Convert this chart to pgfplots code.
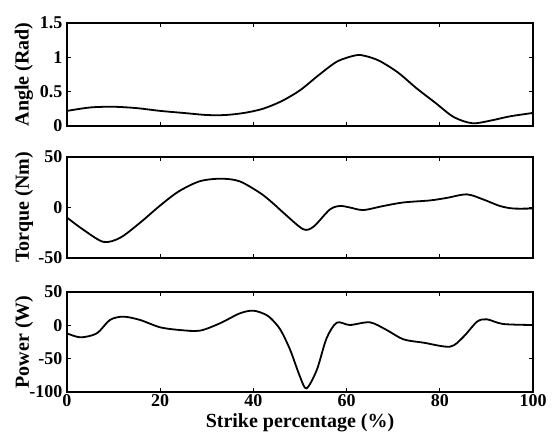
\documentclass[border=0pt]{standalone}
\usepackage{fontspec}
\setmainfont{Liberation Serif}
\usepackage{pgfplots}
\pgfplotsset{compat=1.18}

\pgfplotsset{
  panel/.style={
    scale only axis,
    width=466pt,
    xmin=0, xmax=100,
    xtick={0,20,...,100},
    tick align=inside,
    major tick length=4pt,
    axis line style={line width=2pt},
    every tick/.style={black, line width=1pt},
    /pgf/number format/assume math mode=true,
    ticklabel style={font=\fontsize{18}{18}\selectfont\bfseries, inner sep=2pt},
    yticklabel style={xshift=-2.5pt},
    label style={font=\fontsize{20}{20}\selectfont\bfseries},
    ylabel style={at={(axis description cs:-0.0923,0.5)}, anchor=center},
  },
  curve/.style={black, line width=1.8pt, smooth, tension=0.5, mark=none},
}

\begin{document}
\begin{tikzpicture}
\useasboundingbox (-67pt,0pt) rectangle (485pt,436pt);

% Angle
\begin{axis}[panel, at={(0pt,310pt)}, height=103pt,
  ymin=0, ymax=1.5, ytick={0,0.5,1,1.5}, yticklabels={0,0.5,1,1.5},
  xticklabels={}, ylabel={Angle (Rad)}]
\addplot[curve] coordinates {
(0,0.22)(5,0.27)(10,0.28)(15,0.26)(20,0.22)(25,0.19)(30,0.16)(34,0.16)
(38,0.19)(42,0.25)(46,0.36)(50,0.52)(54,0.74)(58,0.94)(62,1.03)(64,1.02)
(67,0.95)(71,0.78)(75,0.55)(79,0.34)(83,0.13)(87,0.04)(91,0.08)(95,0.14)(100,0.19)
};
\end{axis}

% Torque
\begin{axis}[panel, at={(0pt,178pt)}, height=101pt,
  ymin=-50, ymax=50, ytick={-50,0,50},
  xticklabels={}, ylabel={Torque (Nm)}]
\addplot[curve] coordinates {
(0,-10)(3.5,-22)(7.8,-34)(11.4,-30)(15.7,-15)(20,2)(24,16)(28.5,26)(33,28.5)
(37,26)(41.4,14.5)(44,5)(47,-7.5)(50.7,-21.5)(52.9,-19)(56.4,-2)(58.6,1.5)
(60.7,0)(63.6,-2.5)(67.9,1.5)(72.2,5)(77.9,7)(81.5,9.5)(85.8,13)(89.3,8)
(92.9,1.5)(95.8,-1)(100,-1)
};
\end{axis}

% Power
\begin{axis}[panel, at={(0pt,44pt)}, height=100pt,
  ymin=-100, ymax=50, ytick={-100,-50,0,50},
  ylabel={Power (W)}, xlabel={Strike percentage (\%)},
  xlabel style={at={(axis description cs:0.5,0)}, anchor=base, yshift=-36pt}]
\addplot[curve] coordinates {
(0,-12)(2.9,-18)(6.4,-12)(9.2,8)(12.1,13)(15.7,8)(20,-3)(24.2,-7)(28.5,-8)
(32.8,3)(37.1,18)(40,22)(42.8,15.5)(44.5,5)(46,-9)(47.9,-37)(50,-77)(51.4,-94.5)
(53.6,-67)(55.7,-19.5)(57.9,4)(60.7,0.5)(65,4.5)(68.6,-7)(72.2,-21)(76.5,-26)
(82.2,-32)(85.1,-17)(88,5.5)(90.1,9)(93.6,2)(100,0.5)
};
\end{axis}
\end{tikzpicture}
\end{document}
